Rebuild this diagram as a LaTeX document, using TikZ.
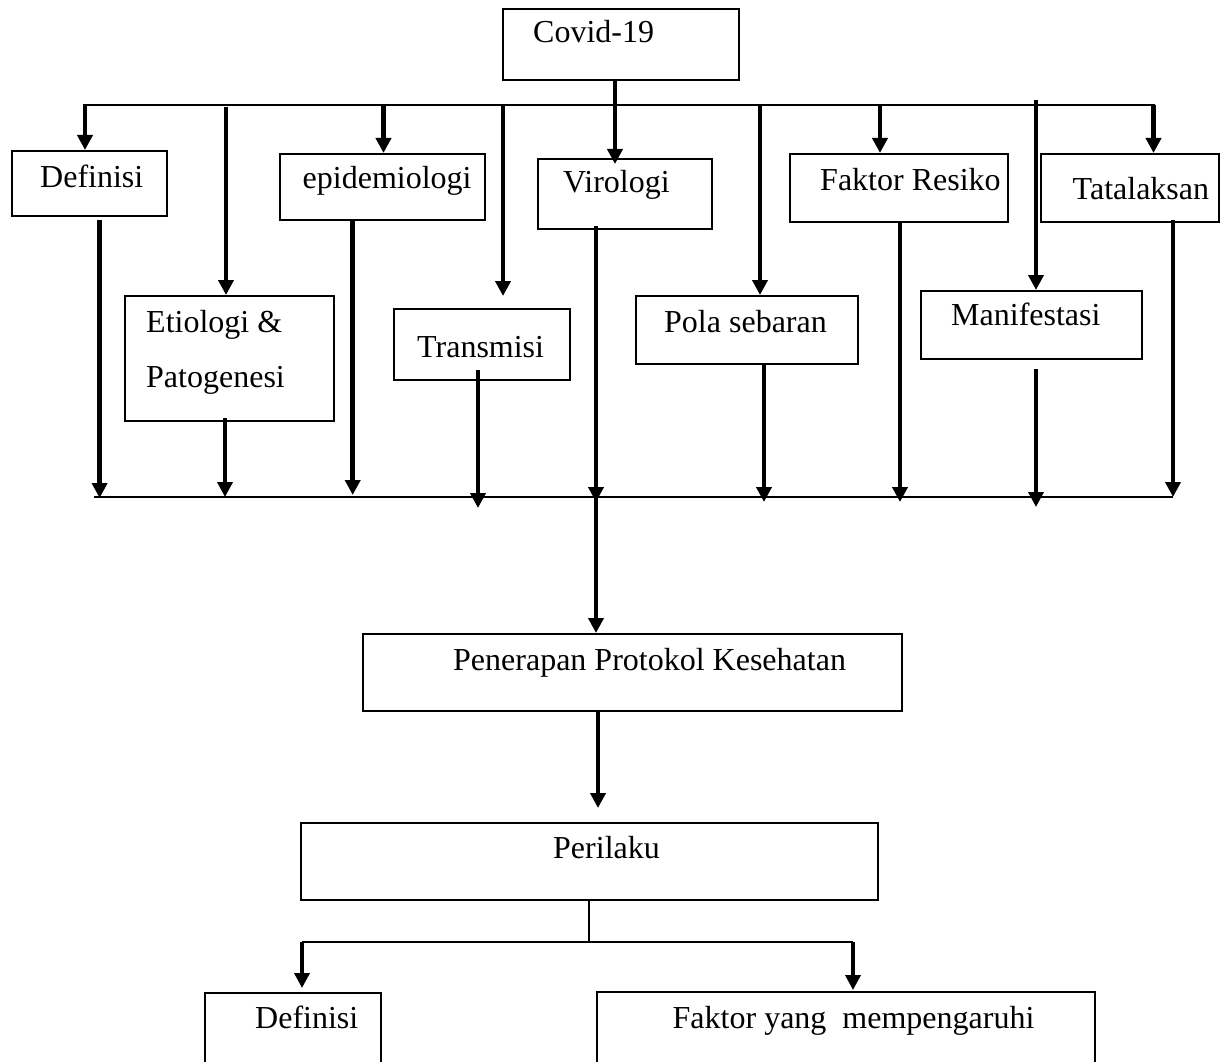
\documentclass[tikz,border=0pt]{standalone}
\usepackage{fontspec}
\setmainfont{Liberation Serif}
\usetikzlibrary{arrows.meta,fit}
\begin{document}
\begin{tikzpicture}[x=1pt,y=-1pt,
  box/.style={draw, line width=2pt, inner sep=0pt, rectangle},
  lbl/.style={anchor=base west, inner sep=0pt, font=\fontsize{32}{38}\selectfont},
  arr/.style={line width=4.5pt, -{Triangle[length=15pt,width=15pt]}},
  arrs/.style={line width=3.5pt, -{Triangle[length=15pt,width=15pt]}},
  bar/.style={line width=2.5pt},
  barb/.style={line width=2pt},
  thinl/.style={line width=1.5pt}
]
\useasboundingbox (0,0) rectangle (1229,1062);
\fill[white] (0,0) rectangle (1229,1062);
\clip (0,0) rectangle (1229,1062);

% boxes
\node[box, fit={(503,9) (739,80)}] (cov) {};
\node[box, fit={(11.5,151) (166.5,216)}] (def) {};
\node[box, fit={(124.5,296) (334,421)}] (eti) {};
\node[box, fit={(279.5,154) (485,220)}] (epi) {};
\node[box, fit={(393.5,309) (570,380)}] (tra) {};
\node[box, fit={(538,159) (712,229)}] (vir) {};
\node[box, fit={(635.5,296) (857.5,364)}] (pol) {};
\node[box, fit={(790,154) (1008,222)}] (fak) {};
\node[box, fit={(921,291) (1142,359)}] (man) {};
\node[box, fit={(1041,154) (1218.5,222)}] (tat) {};
\node[box, fit={(362.5,634) (902,711)}] (pen) {};
\node[box, fit={(300.5,823) (878,900)}] (per) {};
\node[box, fit={(205,993) (381,1080)}] (dfb) {};
\node[box, fit={(597,992) (1095,1080)}] (fym) {};

% labels
\node[lbl] (lcov) at (533,43) {Covid-19};
\node[lbl] (ldef) at (40,187) {Definisi};
\node[lbl] (lepi) at (302.5,188) {epidemiologi};
\node[lbl] (lvir) at (563,193) {Virologi};
\node[lbl] (lfak) at (820,190) {Faktor Resiko};
\node[lbl] (ltat) at (1072.5,199) {Tatalaksan};
\node[lbl] (leti1) at (146,332) {Etiologi \&};
\node[lbl] (leti2) at (146,387) {Patogenesi};
\node[lbl] (ltra) at (417,357) {Transmisi};
\node[lbl] (lpol) at (664,332) {Pola sebaran};
\node[lbl] (lman) at (951,325) {Manifestasi};
\node[lbl] (lpen) at (453,670) {Penerapan Protokol Kesehatan};
\node[lbl] (lper) at (553,858) {Perilaku};
\node[lbl] (ldfb) at (255,1028) {Definisi};
\node[lbl] (lfym) at (672.5,1028) {Faktor yang~ mempengaruhi};

% top bar
\coordinate (tl) at (83,105);
\coordinate (tr) at (1155,105);
\draw[bar] (tl) -- (tr);
\coordinate (t1) at (85,105);
\coordinate (t2) at (226,107);
\coordinate (t3) at (383.5,105);
\coordinate (t4) at (503,106);
\coordinate (t5) at (615,80);
\coordinate (t6) at (760,106);
\coordinate (t7) at (880,105);
\coordinate (t8) at (1036,100);
\coordinate (t9) at (1153.5,105);
\coordinate (e4) at (503,296);
\coordinate (e5) at (615,164);

\draw[arr] (t5 |- cov.south) -- (e5);
\draw[arr] (t1) -- (t1 |- def.north);
\draw[arr] (t2) -- (t2 |- eti.north);
\draw[arr] (t3) -- (t3 |- epi.north);
\draw[arr] (t4) -- (e4);
\draw[arr] (t6) -- (t6 |- pol.north);
\draw[arr] (t7) -- (t7 |- fak.north);
\draw[arr] (t8) -- (t8 |- man.north);
\draw[arr] (t9) -- (t9 |- tat.north);

% bottom bar
\coordinate (bl) at (94,497);
\coordinate (br) at (1173,497);
\draw[barb] (bl) -- (br);
\coordinate (b1) at (99.6,498);
\coordinate (b2) at (225,497);
\coordinate (b3) at (352.7,495);
\coordinate (b4) at (478,508);
\coordinate (b5) at (596,502);
\coordinate (b6) at (764,502);
\coordinate (b7) at (900,502);
\coordinate (b8) at (1036,507);
\coordinate (b9) at (1173,497);

\draw[arr] ([yshift=-3pt]b1 |- def.south) -- (b1);
\draw[arr] ([yshift=4pt]b2 |- eti.south) -- (b2);
\draw[arr] (b3 |- epi.south) -- (b3);
\draw[arr] ([yshift=11pt]b4 |- tra.south) -- (b4);
\draw[arr] ([yshift=4pt]b5 |- vir.south) -- (b5);
\draw[arr] (b6 |- pol.south) -- (b6);
\draw[arr] (b7 |- fak.south) -- (b7);
\draw[line width=3.5pt, -{Triangle[length=15pt,width=15pt]}] ([yshift=-9pt]b8 |- man.south) -- (b8);
\draw[arr] ([yshift=3pt]b9 |- tat.south) -- (b9);

% to Penerapan
\coordinate (v0) at (596,497);
\draw[arr] (v0) -- (v0 |- pen.north);

% Penerapan -> Perilaku
\coordinate (p0) at (598,711);
\coordinate (p1) at (598,808);
\draw[arr] (p0) -- (p1);

% Perilaku branches
\coordinate (pj) at (589,942);
\draw[thinl] (pj |- per.south) -- (pj);
\coordinate (pl) at (302,942);
\coordinate (pr) at (853,942);
\draw[bar] (pl) -- (pr);
\coordinate (pla) at (302,988);
\coordinate (pra) at (853,990);
\draw[arrs] (pl) -- (pla);
\draw[arrs] (pr) -- (pra);
\end{tikzpicture}
\end{document}
